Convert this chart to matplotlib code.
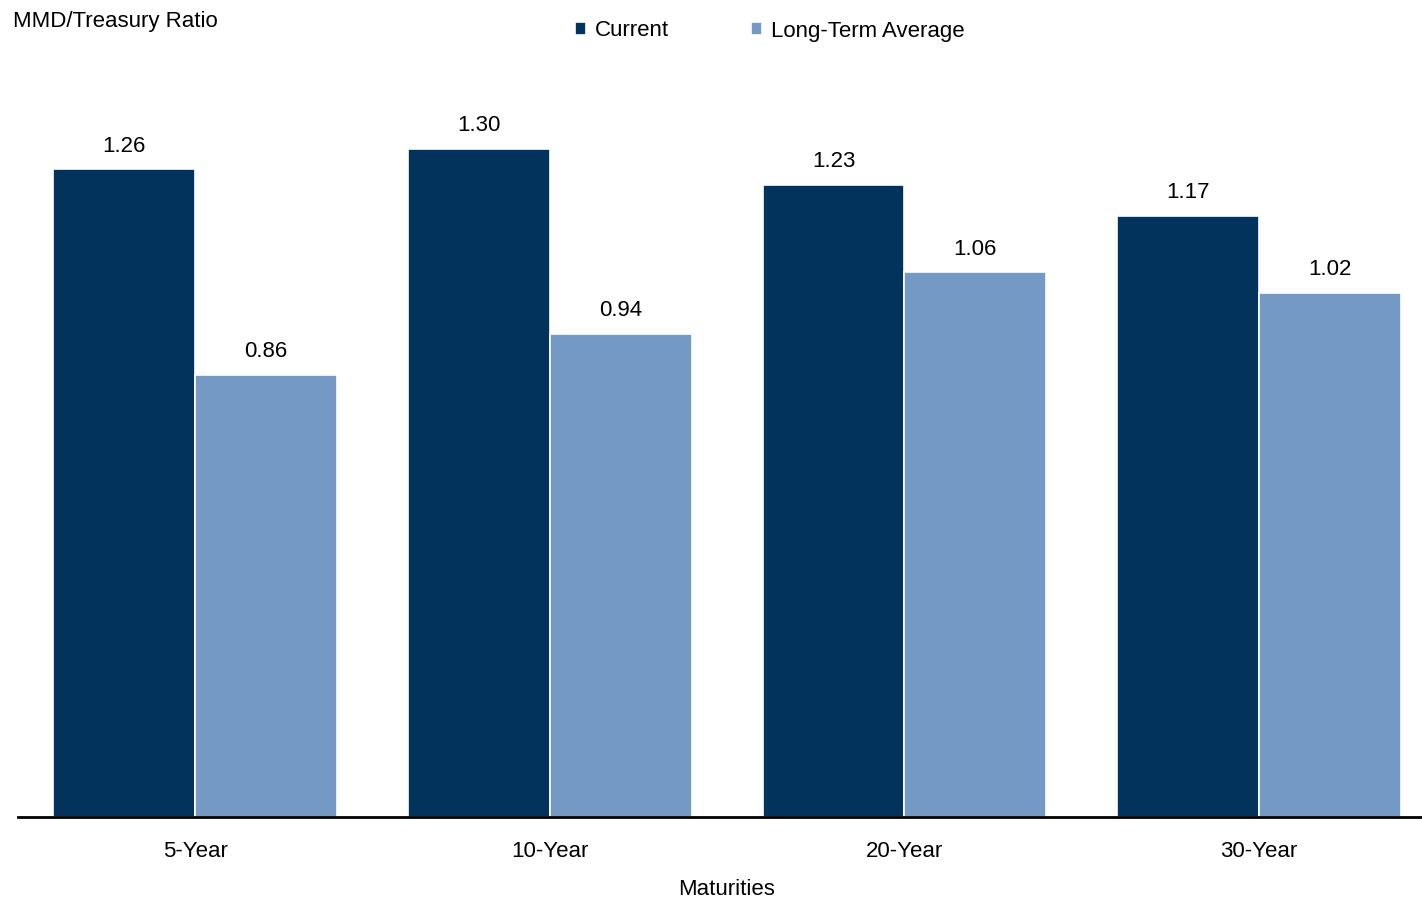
import numpy as np
import matplotlib.pyplot as plt
from matplotlib import font_manager

# Datos
categories = ["5-Year", "10-Year", "20-Year", "30-Year"]
current = [1.26, 1.30, 1.23, 1.17]
longTermAvg = [0.86, 0.94, 1.06, 1.02]

darkBlue = "#02335c"
lightBlue = "#7499c5"

# Busca una fuente estrecha parecida a Arial Narrow
available = {f.name for f in font_manager.fontManager.ttflist}
if "Liberation Sans Narrow" in available:
    fam, fs = "Liberation Sans Narrow", 20
else:
    fam, fs = "Liberation Sans", 16
plt.rcParams['font.family'] = [fam, 'DejaVu Sans']

fig = plt.figure(figsize=(14.22, 9.01), dpi=100)
ax = fig.add_axes([18/1422, 84/901, 1404/1422, 757/901])

x = np.arange(len(categories))
w = 0.4
b1 = ax.bar(x - w/2, current, w, color=darkBlue, edgecolor="white", linewidth=1.2, label="Current")
b2 = ax.bar(x + w/2, longTermAvg, w, color=lightBlue, edgecolor="white", linewidth=1.2, label="Long-Term Average")

# Etiquetas de valores
for bars in (b1, b2):
    for bar in bars:
        h = bar.get_height()
        ax.annotate(f"{h:.2f}", (bar.get_x() + bar.get_width()/2, h), xytext=(0, 9),
                    textcoords="offset points", ha="center", va="bottom", fontsize=fs)

ax.set_xlim(-0.5, 3.46)
ax.set_ylim(0, 757/514)
ax.set_yticks([])
ax.set_xticks(x)
ax.set_xticklabels(categories, fontsize=fs)
ax.tick_params(axis="x", length=0, pad=17)
ax.set_xlabel("Maturities", fontsize=fs)
ax.xaxis.set_label_coords((727 - 18)/1404, -62/757)

for s in ["top", "right", "left"]:
    ax.spines[s].set_visible(False)
ax.spines["bottom"].set_linewidth(2)

fig.text(13/1422, 1 - 21/901, "MMD/Treasury Ratio", fontsize=fs, va="center", ha="left")

leg = fig.legend(loc="center", bbox_to_anchor=(770/1422, 1 - 31/901), ncol=2, frameon=False,
                 fontsize=fs, handlelength=0.5, handleheight=0.5, handletextpad=0.4, columnspacing=3.7)

plt.savefig("out.png", dpi=100)
